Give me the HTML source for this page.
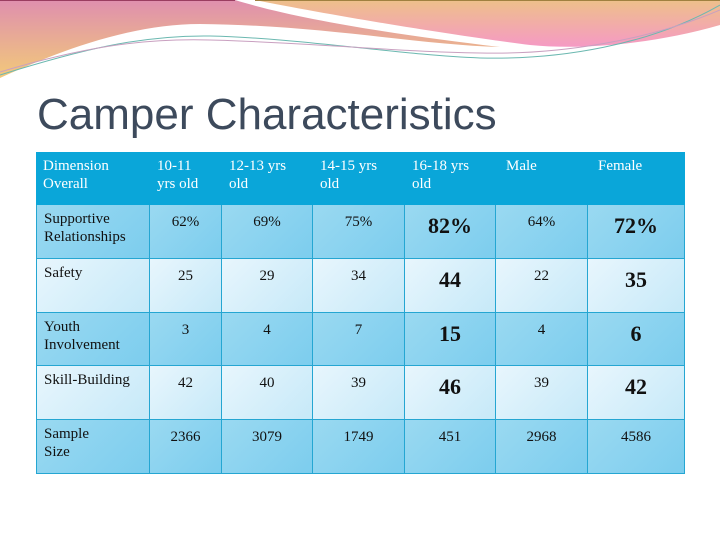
<!DOCTYPE html>
<html><head><meta charset="utf-8"><style>
body{margin:0;width:720px;height:540px;overflow:hidden;background:#fff;position:relative;font-family:"Liberation Serif",serif}
.c{position:absolute;box-sizing:border-box;border-right:1px solid #25a6d2;border-bottom:1px solid #25a6d2;color:#111;font-size:15px;line-height:18px}
.h{color:#fff;background:#0aa6d9;border:none}
.n{text-align:center;padding-top:8px}
.b{font-size:22px;font-weight:bold;padding-top:10px;line-height:22px}
</style></head><body>
<svg width="720" height="100" style="position:absolute;left:0;top:0">
<defs>
<linearGradient id="g1" x1="0" y1="0" x2="0" y2="1"><stop offset="0" stop-color="#df8fae"/><stop offset="1" stop-color="#f2c97a"/></linearGradient>
<linearGradient id="g2" x1="0" y1="0" x2="0" y2="1"><stop offset="0" stop-color="#eec08a"/><stop offset="1" stop-color="#f59ac4"/></linearGradient>
</defs>
<path d="M0,0 H235 C300,20 400,35 500,47 C420,45 320,25 200,24 C120,24 40,60 0,78 Z" fill="url(#g1)"/>
<path d="M255,0 H720 V25 C650,45 580,50 530,45 C450,35 330,15 255,0Z" fill="url(#g2)"/>
<path d="M0,75 C80,50 140,35 210,36 C300,38 400,55 480,58 C560,60 650,45 720,5" fill="none" stroke="#6bb8b0" stroke-width="1"/>
<path d="M0,72 C80,48 140,38 210,40 C300,42 400,52 480,53 C560,55 650,40 720,10" fill="none" stroke="#c9a0c0" stroke-width="1"/>
<path d="M0,0 H235" stroke="#9a3d60" stroke-width="2"/>
<path d="M255,0 H720" stroke="#a08040" stroke-width="2"/>
</svg>
<div style="position:absolute;left:37px;top:90px;font-family:'Liberation Sans',sans-serif;font-size:44px;color:#3d4a5c">Camper Characteristics</div>
<div id="t"></div>
<script>
const cols=[36,150,222,313,405,496,588,685];
const rows=[152,205,259,313,366,420,474];
const headers=["Dimension<br>Overall","10-11<br>yrs old","12-13 yrs<br>old","14-15 yrs<br>old","16-18 yrs<br>old","Male","Female"];
const labels=["Supportive<br>Relationships","Safety","Youth<br>Involvement","Skill-Building","Sample<br>Size"];
const vals=[["62%","69%","75%","82%","64%","72%"],["25","29","34","44","22","35"],["3","4","7","15","4","6"],["42","40","39","46","39","42"],["2366","3079","1749","451","2968","4586"]];
const t=document.getElementById('t');
for(let j=0;j<7;j++){const d=document.createElement('div');


d.className='c h';d.style.cssText=`left:${cols[j]}px;top:${rows[0]}px;width:${cols[j+1]-cols[j]}px;height:${rows[1]-rows[0]}px;padding:5px 0 0 ${j>=5?10:7}px;`;
d.innerHTML=headers[j];t.appendChild(d);}
for(let i=0;i<5;i++){const bg=i%2==0?'linear-gradient(135deg,#9ad9f1,#7ccdee)':'linear-gradient(135deg,#e8f6fd,#c6e9f8)';
for(let j=0;j<7;j++){const d=document.createElement('div');


const big=(j==4||j==6)&&i<4;
d.className='c'+(j>0?' n':'')+(big?' b':'');
d.style.cssText+=`left:${cols[j]}px;top:${rows[i+1]}px;width:${cols[j+1]-cols[j]}px;height:${rows[i+2]-rows[i+1]}px;background:${bg};`+(j==0?'padding:5px 0 0 7px;border-left:1px solid #25a6d2;':'');
d.innerHTML=j==0?labels[i]:vals[i][j-1];t.appendChild(d);}}
</script>
</body></html>
